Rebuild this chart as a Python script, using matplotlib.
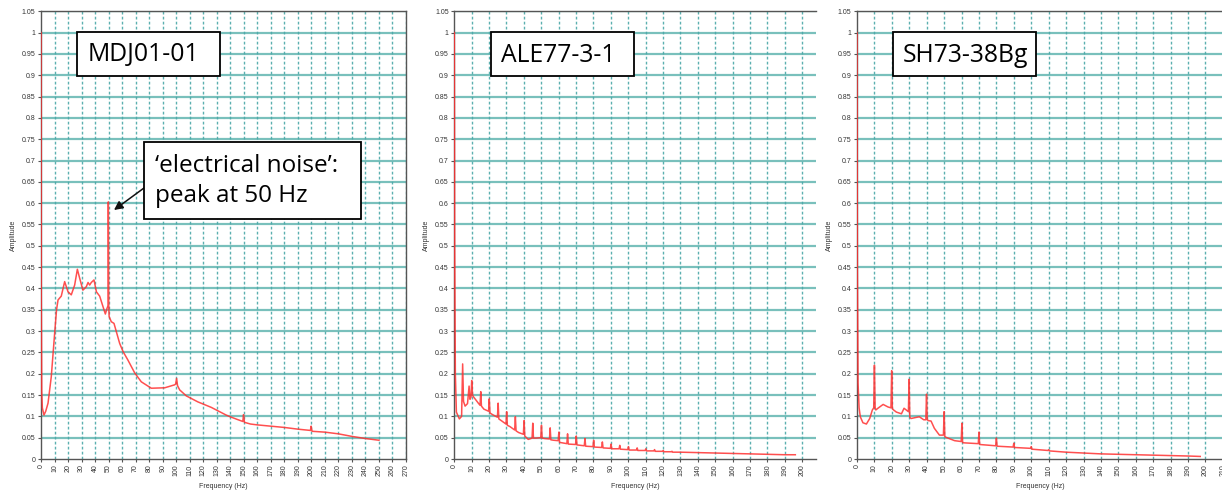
import matplotlib
matplotlib.use("Agg")
import matplotlib.pyplot as plt
from matplotlib.patches import Rectangle
import numpy as np

# ---------------- data ----------------
mdj_freq = [0, 0.15, 0.5, 1.0, 2.2, 3.5, 5.2, 7.6, 10.1, 11.5, 12.6, 15.0, 17.5, 20.0,
            22.4, 24.9, 26.9, 28.6, 31.0, 33.5, 34.8, 36.0, 37.2, 39.2, 41.0, 43.4,
            45.9, 47.6, 48.8, 49.6, 49.8, 50.1, 50.4, 52.0, 54.0, 55.7, 58.2, 60.7,
            64.3, 69.3, 74.2, 81.6, 91.5, 98.9, 99.6, 100.3, 101.0, 102.6, 107.5,
            116.0, 126.0, 137.0, 140.0, 145.0, 149.3, 149.8, 150.5, 155.0, 160.0,
            170.0, 180.0, 190.0, 199.3, 199.8, 200.5, 210.0, 220.0, 230.0, 240.0,
            250.0]
mdj_amp = [1.0, 0.40, 0.16, 0.12, 0.103, 0.112, 0.131, 0.193, 0.295, 0.35, 0.373,
           0.382, 0.416, 0.392, 0.385, 0.408, 0.445, 0.424, 0.396, 0.404, 0.414,
           0.408, 0.414, 0.420, 0.392, 0.382, 0.357, 0.340, 0.353, 0.36, 0.603,
           0.36, 0.334, 0.322, 0.318, 0.299, 0.271, 0.252, 0.232, 0.202, 0.181,
           0.166, 0.167, 0.174, 0.176, 0.189, 0.172, 0.162, 0.148, 0.134, 0.121,
           0.103, 0.099, 0.093, 0.088, 0.104, 0.086, 0.082, 0.080, 0.077, 0.074,
           0.070, 0.067, 0.077, 0.065, 0.063, 0.059, 0.053, 0.048, 0.044]

ale_freq = [0, 0.2, 0.6, 1.2, 2.9, 4.2, 4.8, 5.3, 6.2, 7.6, 8.5, 9.0, 9.6, 10.0,
            10.5, 11.0, 13.8, 14.8, 15.2, 15.6, 17.0, 19.7, 20.1, 20.5, 22.0,
            24.8, 25.2, 25.6, 27.0, 29.7, 30.1, 30.5, 32.0, 34.7, 35.1, 35.5, 37.0,
            39.7, 40.1, 40.5, 42.5, 44.7, 45.1, 45.5, 47.0, 49.7, 50.1, 50.5, 52.0,
            54.7, 55.1, 55.5, 57.0, 59.7, 60.1, 60.5, 64.7, 65.1, 65.5, 69.7, 70.1,
            70.5, 74.7, 75.1, 75.5, 79.7, 80.1, 80.5, 84.7, 85.1, 85.5, 89.7, 90.1,
            90.5, 94.7, 95.1, 95.5, 99.7, 100.1, 100.5, 104.7, 105.1, 105.5, 109.7,
            110.1, 110.5, 114.7, 115.1, 115.5, 119.7, 120.1, 120.5, 124.7, 125.1,
            125.5, 130, 140, 150, 160, 170, 180, 190, 196]
ale_amp = [1.0, 0.5, 0.2, 0.11, 0.094, 0.10, 0.223, 0.135, 0.124, 0.13, 0.171, 0.14,
           0.145, 0.184, 0.15, 0.146, 0.131, 0.126, 0.158, 0.124, 0.117, 0.112,
           0.141, 0.108, 0.104, 0.098, 0.131, 0.094, 0.090, 0.082, 0.111, 0.079,
           0.076, 0.068, 0.099, 0.066, 0.062, 0.058, 0.090, 0.054, 0.046, 0.049,
           0.084, 0.049, 0.049, 0.050, 0.079, 0.049, 0.048, 0.047, 0.073, 0.045,
           0.044, 0.043, 0.063, 0.039, 0.036, 0.059, 0.035, 0.034, 0.054, 0.033,
           0.031, 0.048, 0.030, 0.029, 0.044, 0.028, 0.027, 0.040, 0.026, 0.025,
           0.035, 0.024, 0.024, 0.032, 0.023, 0.022, 0.029, 0.021, 0.021, 0.026,
           0.020, 0.020, 0.024, 0.019, 0.019, 0.022, 0.018, 0.018, 0.020, 0.017,
           0.017, 0.018, 0.016, 0.016, 0.015, 0.014, 0.013, 0.012, 0.011, 0.010,
           0.010]

sh_freq = [0, 0.2, 0.6, 1.2, 1.9, 3.4, 5.4, 7.3, 8.8, 9.6, 10.0, 10.4, 10.8, 12.0,
           15.0, 17.8, 19.5, 19.9, 20.3, 21.0, 22.6, 25.5, 27.0, 29.5, 29.9, 30.3,
           31.0, 34.5, 35.8, 38.3, 39.5, 39.9, 40.3, 41.0, 42.5, 44.4, 47.3, 49.6,
           50.0, 50.4, 51.0, 56.0, 59.8, 60.2, 60.6, 61.0, 69.6, 70.0, 70.4, 79.6,
           80.0, 80.4, 89.6, 90.0, 90.4, 99.6, 100.0, 100.4, 109.6, 110.0, 110.4,
           120, 130, 140, 150, 160, 170, 180, 190, 197]
sh_amp = [1.0, 0.45, 0.178, 0.12, 0.099, 0.085, 0.082, 0.095, 0.115, 0.12, 0.220,
          0.12, 0.115, 0.119, 0.128, 0.122, 0.120, 0.207, 0.118, 0.115, 0.110,
          0.106, 0.119, 0.111, 0.187, 0.098, 0.095, 0.098, 0.099, 0.092, 0.092,
          0.152, 0.092, 0.090, 0.089, 0.072, 0.056, 0.056, 0.111, 0.053, 0.051,
          0.043, 0.041, 0.084, 0.039, 0.038, 0.036, 0.063, 0.034, 0.031, 0.049,
          0.030, 0.028, 0.037, 0.027, 0.025, 0.029, 0.023, 0.020, 0.022, 0.019,
          0.016, 0.014, 0.012, 0.011, 0.010, 0.009, 0.008, 0.007, 0.006]

sample_names = ["MDJ01-01", "ALE77-3-1", "SH73-38Bg"]
x_max = [270, 208, 210]
y_ticks = [round(0.05 * i, 2) for i in range(22)]
y_tick_labels = ["0", "0.05", "0.1", "0.15", "0.2", "0.25", "0.3", "0.35", "0.4",
                 "0.45", "0.5", "0.55", "0.6", "0.65", "0.7", "0.75", "0.8", "0.85",
                 "0.9", "0.95", "1", "1.05"]
note_text = "\u2018electrical noise\u2019:\npeak at 50 Hz"

# ---------------- figure ----------------
W, H = 1222, 493
fig = plt.figure(figsize=(W / 100, H / 100), dpi=100)
fig.patch.set_facecolor("white")

def fx(px):
    return px / W

def fy(py):
    return 1 - py / H

ax_top, ax_bot = 11.3, 459.0
ax_px = [(41.0, 406.0), (454.3, 816.2), (857.0, 1222.9)]

series = [(mdj_freq, mdj_amp), (ale_freq, ale_amp), (sh_freq, sh_amp)]
hgrid = "#62b5b1"
vgrid = "#4aa8a8"
spine_c = "#555555"
tick_font = dict(family="Liberation Sans", size=5)

axes = []
for i, ((l, r), (f, a)) in enumerate(zip(ax_px, series)):
    ax = fig.add_axes([fx(l), fy(ax_bot), fx(r - l), (ax_bot - ax_top) / H])
    ax.set_xlim(0, x_max[i])
    ax.set_ylim(0, 1.05)
    ax.set_yticks(y_ticks)
    ax.set_yticklabels(y_tick_labels, fontdict=tick_font, color="#333333")
    xt = list(range(0, x_max[i] + 1, 10))
    ax.set_xticks(xt)
    ax.set_xticklabels([str(v) for v in xt], fontdict=tick_font, color="#333333",
                       rotation=90)
    ax.tick_params(direction="out", length=2.5, width=0.8, color=spine_c, pad=1.5)
    for y in y_ticks[1:]:
        ax.axhline(y, color=hgrid, lw=1.6, alpha=0.85, zorder=1)
    for x in xt[1:]:
        ax.axvline(x, color=vgrid, lw=1.0, ls=(0, (2.0, 1.6)), alpha=0.9, zorder=1)
    ax.plot(f, a, color="#ff3030", lw=1.1, alpha=0.85, zorder=3, clip_on=True)
    for s in ["left", "bottom", "top", "right"]:
        ax.spines[s].set_color(spine_c)
        ax.spines[s].set_linewidth(1.0)
    if i == 1:
        ax.spines["right"].set_visible(False)
    ax.set_ylabel("Amplitude", fontdict=dict(family="Liberation Sans", size=5),
                  color="#333333", labelpad=3.5)
    ax.set_xlabel("Frequency (Hz)", fontdict=dict(family="Liberation Sans", size=5),
                  color="#333333", labelpad=5)
    axes.append(ax)

# ---------------- labelled boxes ----------------
def box(x0, x1, y0, y1):
    fig.add_artist(Rectangle((fx(x0), fy(y1)), fx(x1 - x0), (y1 - y0) / H,
                             transform=fig.transFigure, facecolor="white",
                             edgecolor="black", lw=1.3, zorder=10))

label_font = dict(family="Open Sans", size=17.8)
box_px = [(77, 220), (490.7, 634), (893, 1036)]
text_px = [87.5, 501, 903]
for (x0, x1), tx, name in zip(box_px, text_px, sample_names):
    box(x0, x1, 32, 76)
    fig.text(fx(tx), fy(55), name, ha="left", va="center", fontdict=label_font,
             color="black", zorder=11)

box(144, 361, 142, 219)
fig.text(fx(155), fy(181), note_text, ha="left", va="center",
         fontdict=dict(family="Open Sans", size=17.5),
         color="black", linespacing=1.3, zorder=11)
axes[0].annotate("", xy=(54.0, 0.584), xycoords="data",
                 xytext=(fx(144), fy(188)), textcoords="figure fraction",
                 arrowprops=dict(arrowstyle="-|>", color="#111111", lw=1.1,
                                 mutation_scale=13, shrinkA=0, shrinkB=0),
                 zorder=12)

fig.savefig("out.png", dpi=100)
